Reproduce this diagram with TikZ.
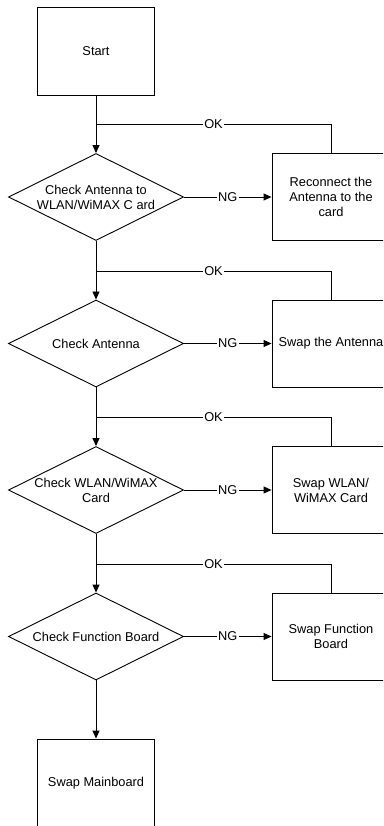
\documentclass[tikz,border=0pt]{standalone}
\usepackage{fontspec}
\setmainfont{Liberation Sans}
\usetikzlibrary{shapes.geometric,arrows.meta}
\begin{document}
\begin{tikzpicture}[x=1pt,y=-1pt,
  every node/.style={font=\fontsize{12.8}{15}\selectfont},
  procbox/.style={draw,line width=0.9pt,minimum width=117pt,minimum height=87pt,inner sep=0pt,align=center},
  decbox/.style={draw,diamond,line width=0.9pt,minimum width=175pt,minimum height=87pt,inner sep=0pt},
  dectext/.style={align=center,inner sep=0pt},
  flow/.style={line width=0.9pt,-{Triangle[length=8pt,width=7pt]}},
  link/.style={line width=0.9pt},
  tag/.style={fill=white,inner sep=1.5pt}
]
\useasboundingbox (0,0) rectangle (383,826);
\clip (0,0) rectangle (383,826);

% nodes
\node[procbox,minimum height=88pt] (start) at (96,51) {Start};

\node[decbox] (d1) at (96,197) {};
\node[dectext] at (d1) {Check Antenna to\\WLAN/WiMAX C ard};
\node[procbox,minimum width=118pt] (b1) at (331,197) {Reconnect the\\Antenna to the\\card};

\node[decbox] (d2) at (96,343.5) {};
\node[dectext] at (d2) {Check Antenna};
\node[procbox,minimum width=118pt] (b2) at (331,343.5) {Swap the Antenna};

\node[decbox] (d3) at (96,490) {};
\node[dectext] at (d3) {Check WLAN/WiMAX\\Card};
\node[procbox,minimum width=118pt] (b3) at (331,490) {Swap WLAN/\\WiMAX Card};

\node[decbox] (d4) at (96,636.5) {};
\node[dectext] at (d4) {Check Function Board};
\node[procbox,minimum width=118pt] (b4) at (331,636.5) {Swap Function\\Board};

\node[procbox,minimum height=88pt] (mb) at (96,783) {Swap Mainboard};

% junctions
\coordinate (j1) at (96,124.5);
\coordinate (j2) at (96,271);
\coordinate (j3) at (96,417.5);
\coordinate (j4) at (96,564);

% main flow
\draw[flow] (start) -- (d1);
\draw[flow] (d1) -- (d2);
\draw[flow] (d2) -- (d3);
\draw[flow] (d3) -- (d4);
\draw[flow] (d4) -- (mb);

% NG branches
\draw[flow] (d1) -- node[tag]{NG} (b1);
\draw[flow] (d2) -- node[tag]{NG} (b2);
\draw[flow] (d3) -- node[tag]{NG} (b3);
\draw[flow] (d4) -- node[tag]{NG} (b4);

% OK returns
\draw[link] (b1.north) |- node[tag,pos=0.75]{OK} (j1);
\draw[link] (b2.north) |- node[tag,pos=0.75]{OK} (j2);
\draw[link] (b3.north) |- node[tag,pos=0.75]{OK} (j3);
\draw[link] (b4.north) |- node[tag,pos=0.75]{OK} (j4);
\end{tikzpicture}
\end{document}
